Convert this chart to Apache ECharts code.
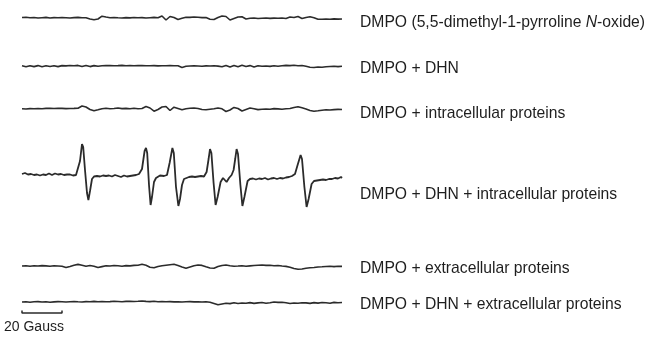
<!DOCTYPE html>
<html>
<head>
<meta charset="utf-8">
<script src="https://cdn.jsdelivr.net/npm/echarts@6/dist/echarts.min.js"></script>
<style>
html, body { margin: 0; padding: 0; background: #fff; }
#chart { width: 650px; height: 337px; }
</style>
</head>
<body>
<div id="chart"></div>
<script>
// field axis: Gauss from start of sweep, flat traces sampled every 2 G
const fieldStep = 2;
const fieldMax = 160;

// signal amplitudes (arbitrary units, baseline = 0)
const dmpo = [0.5, 0.8, 0.2, 0.5, 0, 0.3, 0.6, 0, 0.4, 0.2, 0.5, 0.3, 0, 0.4, 0.6, 0.2, 0.3,
  -1, -1.8, -1, 1.8, 1,
  0.3, 0.5, 0.2, 0, 0.4, 0.1, 0.5, 0.2, 0.4, 0, 0.3, 0.6, 0.2,
  2, -2, 1.5, 0.5, -1.5, -0.3,
  0.8, 0.6, 1, 0.7, 0.4, 0.5,
  -1.2, -1.5, 0.5, 2, 1.5, -2, -0.5, 1, 1.2, -1,
  -0.3, 0, -0.5, -0.2, 0, -0.4, -0.1, -0.3, 0, -0.5,
  1, 0.5, 1.5, -0.5, 0.5, 1.2, 0.3, -1.3, -1.2, -1, -1.3, -0.9, -1.1, -1];

const dmpoDhn = [0.2, -0.8, 0.3, -0.6, 0.4, -0.7, 0.2, -0.5, 0.3, -0.6, 0.4, 0.1, 0.5, 0.3, 0.6, -0.5, 0.5, -0.6, 0.4, -0.3, 0.2,
  0.4, 0.5, 0.3, 0.4, 0.6, 0.2, 0.5, 0.3, 0.4, 0.5, 0.2, 0.3, 0.4, 0.1, 0.3, 0.2, 0.4, 0.3, 0.2,
  -1.5, -0.3,
  0, 0.2, 0, -0.2, 0.1, 0, 0.2, -0.1,
  -0.8, 0.5, -1, 0.6, -0.7, 0.8, -0.5, 0.4, -0.9, 0.3,
  -0.3, 0, -0.4, 0.2, -0.2, 0.3, 0.6, 0.4, 0.8, 0.3, 0.5, -0.3,
  -1.2, -1.5, -1, -1.3, -0.8,
  -0.5, -0.3, -0.6, -0.2];

const dmpoIntra = [0.3, 0, 0.4, 0.2, 0.5, 0.3, 0.6, 0.8, 0.5, 0.7, 0.6, 0.4, 0.5, 0.6, 0.8,
  3, 2, -0.5, -1.8, -0.8,
  0.3, 0.8, 0.2, 0.5, 1, 0.4, 0.6, 0.2, 0.7, 0.3, 0.5,
  2.5, 1, -2.2, -0.5, 2, 2.5, -1.5, 1.8, 0.5, -0.8,
  0.2, 0.8, 1, 0.5, -0.5, -0.8,
  -0.3, 0.2,
  1, 0.2, -2.5, -1, 1.6, 0.5, -2, -0.5, 1, 0.3,
  -0.6, -0.3, 0, -0.2, 0.4, 0.1, -0.3, 0.2, 0.5,
  1.5, 2.3, 1.2, 0, -1.5, -2.3, -1.8,
  -1.2, -0.8, -1, -0.6, -0.4, -0.5];

// DMPO + DHN + intracellular proteins: [field (G), amplitude]
const dmpoDhnIntra = [
  [0, 1], [1.5, 2], [3, 0.5], [4.5, 1], [6, 0], [7.5, 0.5], [9, -0.5], [10.5, 0.5], [12, 0], [13.5, 1.5],
  [15, 0], [16.5, 1.5], [18, 0.5], [19.5, 1], [21, 0], [22.5, 0.5], [24, 0.5], [25.5, -0.5], [27, 0],
  [28, 2], [29, 14], [30, 31], [30.6, 28], [31.5, 5], [32.5, -18], [33.2, -25], [34, -16], [35, -4], [36, -1.5],
  [37.5, -1], [39, -1.5], [40.5, -0.5], [42, -1], [43.5, -0.5], [45, -1.5], [46.5, 0], [48, -1], [49.5, -2],
  [51, -0.5], [52.5, -1.5], [54, -1], [55.5, -0.5], [57, 0],
  [58.5, 1], [60, 6], [61.3, 24], [62, 27], [62.6, 22], [63.5, -10], [64.3, -30], [65, -22], [66, -7], [67, -3],
  [68, -2], [69, -0.5], [70, -2],
  [71, -1], [72.5, 0], [73.8, 12], [75.2, 27], [75.9, 22], [77, -12], [78.2, -31], [79, -24], [80, -10], [81, -4],
  [82, -2.5], [83.5, -2], [85, -1.5], [86.5, -2], [88, -1.5], [89.5, -1], [91, -1.5],
  [92.3, 3], [93.3, 16], [94, 26], [94.7, 22], [95.8, -8], [96.8, -30], [97.8, -22], [99.3, -7], [100.5, -3],
  [102.3, -7], [103.5, -3], [104.8, 0], [105.8, 5],
  [106.6, 16], [107.3, 26], [108, 21], [109.2, -10], [110.2, -31], [111.2, -22], [112.8, -6], [114, -4],
  [115.5, -3.5], [117, -4.5], [118.5, -3.5], [120, -4], [121.5, -3], [123, -4.5], [124.5, -3.5], [126, -3],
  [127.5, -4], [129, -3], [130.5, -3.5], [132, -2.5], [133.5, -2], [135, -1],
  [136.5, 1], [137.8, 10], [139.3, 20], [140, 16], [141.2, -12], [142.3, -32], [143.3, -24], [144.8, -9],
  [146, -6], [147.5, -5.5], [149, -5], [150.5, -4.5], [152, -5], [153.5, -4], [155, -4], [156.5, -3],
  [158, -3.5], [159.5, -2], [160, -3]
];

const dmpoExtra = [0, 0.3, -0.2, 0.2, 0, 0.4, 0.1, -0.2, 0.3, 0, -0.3,
  -1.5, -0.5, 0.8, 1.6, 0.8, -0.2, 0.5, -0.3, -1.5, -0.6,
  0.3, 0, 0.5, 0.2, -0.2, 0.4, 0.1, 0.6, 0.8,
  1.7, 0.8, -1.2, -1.7, -0.5, 0.3, 0.8, 1.3, 1.7, 0.5, -1, -2.3, -1, 0.3, 1, 0.6, -0.8, -2, -2.2, -0.5, 0.5, 1, 0.3,
  -0.2, 0, 0.3, -0.3, 0.1, 0.5, 0.8, 1, 0.6, 0.8, 0.3, 0.5, 0, -0.4, -1.2, -2.5,
  -3.2, -3, -2.2, -1.8, -1.5,
  -1, -0.8, -0.5, -0.3, -0.6, -0.2, -0.4];

const dmpoDhnExtra = [0, 0.3, -0.2, 0.2, 0.4, 0, 0.3, -0.2, 0.1, 0.4, 0.2, 0, 0.3, 0.5, 0.2, 0, 0.4, 0.2, 0.6, 0.3,
  0.5, 0.2, 0.4, 0.7, 0.5, 0.3, 0.6, 0.8, 0.5, 0.7,
  1, 0.6, 0.4, 0.7, 0.3, 0.5, 0.2, 0.4, 0.1, 0.3, 0, 0.2, 0.4, 0.1, 0.3, 0, 0.2, -0.3,
  -1.5, -2.8, -2, -1.2, -1.6, -0.8, -1.5, -1,
  -1.3, -0.6, -1.4, -0.9, -0.5, -1.2, -0.7, 0, -0.4, -0.2, -0.8, -1.5, -1, -1.3, -0.7, -0.9, -1.4, -0.6,
  -1.1, -0.5, -0.8, -1.2, -0.4, -0.7, -0.5];

const labels = [
  'DMPO (5,5-dimethyl-1-pyrroline {i|N}-oxide)',
  'DMPO + DHN',
  'DMPO + intracellular proteins',
  'DMPO + DHN + intracellular proteins',
  'DMPO + extracellular proteins',
  'DMPO + DHN + extracellular proteins'
];
const scaleBarGauss = 20;
const scaleBarLabel = '20 Gauss';

// layout: baseline pixel and half-height of each trace's strip (1 unit = 1 px)
const baselines = [18, 66, 109, 175, 266, 302];
const halfH = [16, 20, 20, 40, 20, 20];
const labelY = [22.5, 68.5, 113.5, 195, 268.5, 305];
const font = 'Liberation Sans, Arial, sans-serif';

function toPairs(arr) {
  return arr.map((v, i) => [i * fieldStep, v]);
}

const traces = [toPairs(dmpo), toPairs(dmpoDhn), toPairs(dmpoIntra), dmpoDhnIntra, toPairs(dmpoExtra), toPairs(dmpoDhnExtra)];

const grid = [], xAxis = [], yAxis = [], series = [];
traces.forEach((data, k) => {
  grid.push({ left: 22, width: 320, top: baselines[k] - halfH[k], height: halfH[k] * 2 });
  xAxis.push({ gridIndex: k, type: 'value', min: 0, max: fieldMax, show: false });
  yAxis.push({ gridIndex: k, type: 'value', min: -halfH[k], max: halfH[k], show: false });
  series.push({
    type: 'line',
    xAxisIndex: k,
    yAxisIndex: k,
    data: data,
    showSymbol: false,
    silent: true,
    lineStyle: { color: '#2b2b2b', width: k === 3 ? 1.8 : 1.6 }
  });
});

// scale bar under the last trace
series.push({
  type: 'line',
  xAxisIndex: 5,
  yAxisIndex: 5,
  data: [[0, -8.5], [0, -11], [scaleBarGauss, -11], [scaleBarGauss, -8.5]],
  showSymbol: false,
  silent: true,
  lineStyle: { color: '#2b2b2b', width: 1.5 }
});

const graphic = labels.map((t, k) => ({
  type: 'text',
  x: 360,
  y: labelY[k],
  style: {
    text: t,
    fill: '#1e1e1e',
    font: '15.7px ' + font,
    verticalAlign: 'middle',
    rich: { i: { fontStyle: 'italic', fontSize: 15.7, fontFamily: font, fill: '#1e1e1e' } }
  }
}));
graphic.push({
  type: 'text',
  x: 4,
  y: 327,
  style: { text: scaleBarLabel, fill: '#1e1e1e', font: '14px ' + font, verticalAlign: 'middle' }
});

const chart = echarts.init(document.getElementById('chart'));
chart.setOption({
  animation: false,
  backgroundColor: '#fff',
  grid: grid,
  xAxis: xAxis,
  yAxis: yAxis,
  series: series,
  graphic: graphic
});
</script>
</body>
</html>
